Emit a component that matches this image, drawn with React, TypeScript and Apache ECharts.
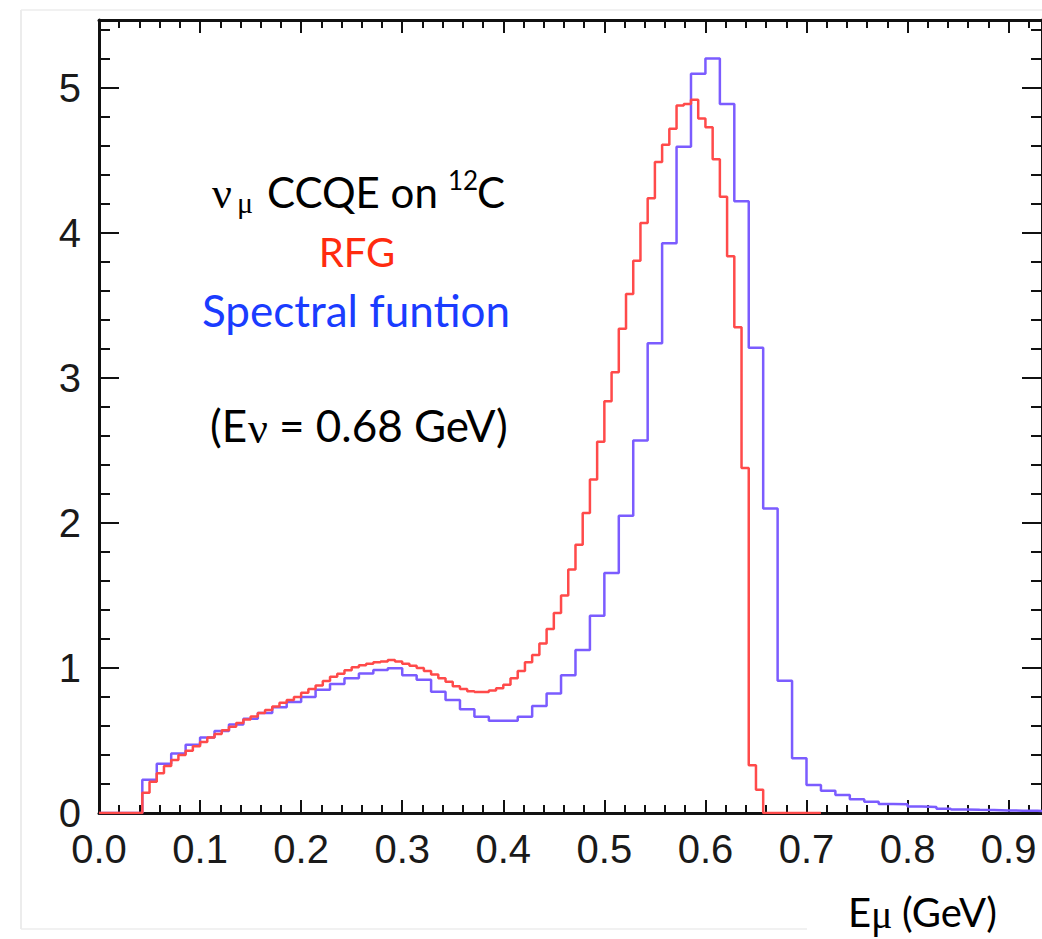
import React, { useEffect, useRef } from "react";
import * as echarts from "echarts";

// Histogram bin widths (GeV)
const RED_BIN_WIDTH = 1 / 140;
const BLUE_BIN_WIDTH = 1 / 70;

// RFG histogram contents (bins of 1/140 GeV starting at 0)
const RED_VALUES = [
  0, 0, 0, 0, 0, 0, 0.14, 0.215, 0.275, 0.325,
  0.365, 0.4, 0.43, 0.46, 0.49, 0.52, 0.545, 0.57, 0.595, 0.62,
  0.645, 0.665, 0.69, 0.71, 0.735, 0.76, 0.78, 0.8, 0.83, 0.855,
  0.88, 0.91, 0.94, 0.96, 0.985, 1.005, 1.02, 1.03, 1.04, 1.045,
  1.055, 1.045, 1.03, 1.015, 1.0, 0.98, 0.955, 0.93, 0.905, 0.875,
  0.855, 0.84, 0.835, 0.835, 0.845, 0.86, 0.885, 0.93, 0.98, 1.04,
  1.09, 1.17, 1.27, 1.38, 1.5, 1.68, 1.85, 2.07, 2.3, 2.56,
  2.84, 3.04, 3.34, 3.58, 3.81, 4.07, 4.24, 4.49, 4.61, 4.72,
  4.88, 4.89, 4.92, 4.79, 4.73, 4.51, 4.25, 3.84, 3.35, 2.38,
  0.33, 0.16, 0, 0, 0, 0, 0, 0, 0, 0,
];

// Spectral-function histogram contents (bins of 1/70 GeV starting at 0)
const BLUE_VALUES = [
  0, 0, 0, 0.23, 0.34, 0.41, 0.47, 0.52, 0.565, 0.61,
  0.65, 0.69, 0.73, 0.765, 0.8, 0.85, 0.89, 0.93, 0.963, 0.986,
  0.998, 0.95, 0.92, 0.837, 0.78, 0.715, 0.664, 0.637, 0.637, 0.664,
  0.738, 0.825, 0.95, 1.125, 1.36, 1.655, 2.05, 2.57, 3.24, 3.93,
  4.595, 5.1, 5.205, 4.89, 4.22, 3.21, 2.1, 0.912, 0.377, 0.193,
  0.154, 0.124, 0.094, 0.078, 0.062, 0.06, 0.045, 0.042, 0.03, 0.025,
  0.022, 0.02, 0.018, 0.016, 0.015, 0.012, 0.01, 0.01, 0.008, 0.006,
];

const X_MIN = 0;
const X_MAX = 0.933;
const X_INTERVAL = 0.1;
const Y_MIN = 0;
const Y_MAX = 5.47;
const Y_INTERVAL = 1;

const RED_COLOR = "#ff4a4a";
const BLUE_COLOR = "#7b5cff";
const RED_TEXT = "#ff2b0f";
const BLUE_TEXT = "#1a3cff";

function histPoints(values: number[], width: number): number[][] {
  const pts = values.map((v, k) => [k * width, v]);
  pts.push([values.length * width, values[values.length - 1]]);
  return pts;
}

function isMultiple(v: number, step: number) {
  const r = v / step;
  return Math.abs(r - Math.round(r)) < 1e-6;
}

const FRAME = "#111";
const LABEL_FONT = "'Liberation Sans', Arial, sans-serif";
const TEXT_FONT = "Lato, 'Open Sans', sans-serif";
const GREEK_FONT = "'Liberation Serif', 'DejaVu Serif', serif";

function makeAxis(kind: "x" | "y", position: string, showLabels: boolean) {
  const isX = kind === "x";
  return {
    type: "value",
    position,
    min: isX ? X_MIN : Y_MIN,
    max: isX ? X_MAX : Y_MAX,
    interval: isX ? X_INTERVAL : Y_INTERVAL,
    axisLine: { show: true, onZero: false, lineStyle: { color: FRAME, width: 3 } },
    axisTick: {
      show: true,
      inside: true,
      length: isX ? 13 : 20,
      lineStyle: { color: FRAME, width: 2 },
    },
    minorTick: {
      show: true,
      splitNumber: 5,
      length: isX ? 8 : 11,
      lineStyle: { color: FRAME, width: 2 },
    },
    splitLine: { show: false },
    minorSplitLine: { show: false },
    axisLabel: {
      show: showLabels,
      margin: isX ? 16 : 18,
      fontSize: 40,
      fontFamily: LABEL_FONT,
      color: "#1a1a1a",
      showMaxLabel: false,
      formatter: (v: number) =>
        isMultiple(v, isX ? X_INTERVAL : Y_INTERVAL)
          ? isX
            ? v.toFixed(1)
            : String(Math.round(v))
          : "",
    },
  };
}

function txt(
  x: number,
  y: number,
  text: string,
  fontSize: number,
  fontFamily: string,
  fill: string,
  align: string = "left"
) {
  return {
    type: "text",
    x,
    y,
    z: 100,
    style: {
      text,
      fontSize,
      fontFamily,
      fill,
      align,
      verticalAlign: "middle",
      textAlign: align,
      textVerticalAlign: "middle",
    },
  };
}

export default function App() {
  const ref = useRef<HTMLDivElement | null>(null);

  useEffect(() => {
    if (!ref.current) return;
    const chart = echarts.init(ref.current, undefined, { renderer: "svg" });

    const option = {
      animation: false,
      backgroundColor: "#ffffff",
      grid: { left: 99, right: -6, top: 20, bottom: 126, containLabel: false },
      xAxis: [makeAxis("x", "bottom", true), makeAxis("x", "top", false)],
      yAxis: [makeAxis("y", "left", true), makeAxis("y", "right", false)],
      series: [
        {
          name: "Spectral funtion",
          type: "line",
          step: "end",
          xAxisIndex: 0,
          yAxisIndex: 0,
          showSymbol: false,
          symbol: "none",
          clip: true,
          lineStyle: { color: BLUE_COLOR, width: 2.5 },
          data: histPoints(BLUE_VALUES, BLUE_BIN_WIDTH),
          z: 3,
        },
        {
          name: "RFG",
          type: "line",
          step: "end",
          xAxisIndex: 0,
          yAxisIndex: 0,
          showSymbol: false,
          symbol: "none",
          clip: true,
          lineStyle: { color: RED_COLOR, width: 2.5 },
          data: histPoints(RED_VALUES, RED_BIN_WIDTH),
          z: 4,
        },
      ],
      graphic: [
        // faint slide border
        { type: "line", shape: { x1: 21, y1: 10, x2: 21, y2: 929 }, style: { stroke: "#e6e6e6", lineWidth: 1.5 }, z: 1 },
        { type: "line", shape: { x1: 21, y1: 10, x2: 1042, y2: 10 }, style: { stroke: "#ececec", lineWidth: 1.5 }, z: 1 },
        { type: "line", shape: { x1: 21, y1: 929, x2: 807, y2: 929 }, style: { stroke: "#ececec", lineWidth: 1.5 }, z: 1 },
        // annotation line 1: nu_mu CCQE on 12C
        txt(212, 193, "ν", 44, GREEK_FONT, "#000"),
        txt(237, 202, "μ", 30, GREEK_FONT, "#000"),
        txt(267, 192, "CCQE on", 42, TEXT_FONT, "#000"),
        txt(448, 180, "12", 26, TEXT_FONT, "#000"),
        txt(477, 192, "C", 42, TEXT_FONT, "#000"),
        // legend-like labels
        txt(357, 252, "RFG", 40, TEXT_FONT, RED_TEXT, "center"),
        txt(356, 310, "Spectral funtion", 44, TEXT_FONT, BLUE_TEXT, "center"),
        // neutrino energy
        txt(210, 425, "(E", 44, TEXT_FONT, "#000"),
        txt(248, 428, "ν", 44, GREEK_FONT, "#000"),
        txt(279, 425, "= 0.68 GeV)", 44, TEXT_FONT, "#000"),
        // x axis title
        txt(848, 912, "E", 40, TEXT_FONT, "#000"),
        txt(871, 914, "μ", 40, GREEK_FONT, "#000"),
        txt(902, 912, "(GeV)", 40, TEXT_FONT, "#000"),
      ],
    };

    chart.setOption(option as any);
    return () => {
      chart.dispose();
    };
  }, []);

  return (
    <div
      ref={ref}
      style={{ position: "absolute", left: 0, top: 0, width: 1042, height: 939, overflow: "hidden", background: "#fff" }}
    />
  );
}
